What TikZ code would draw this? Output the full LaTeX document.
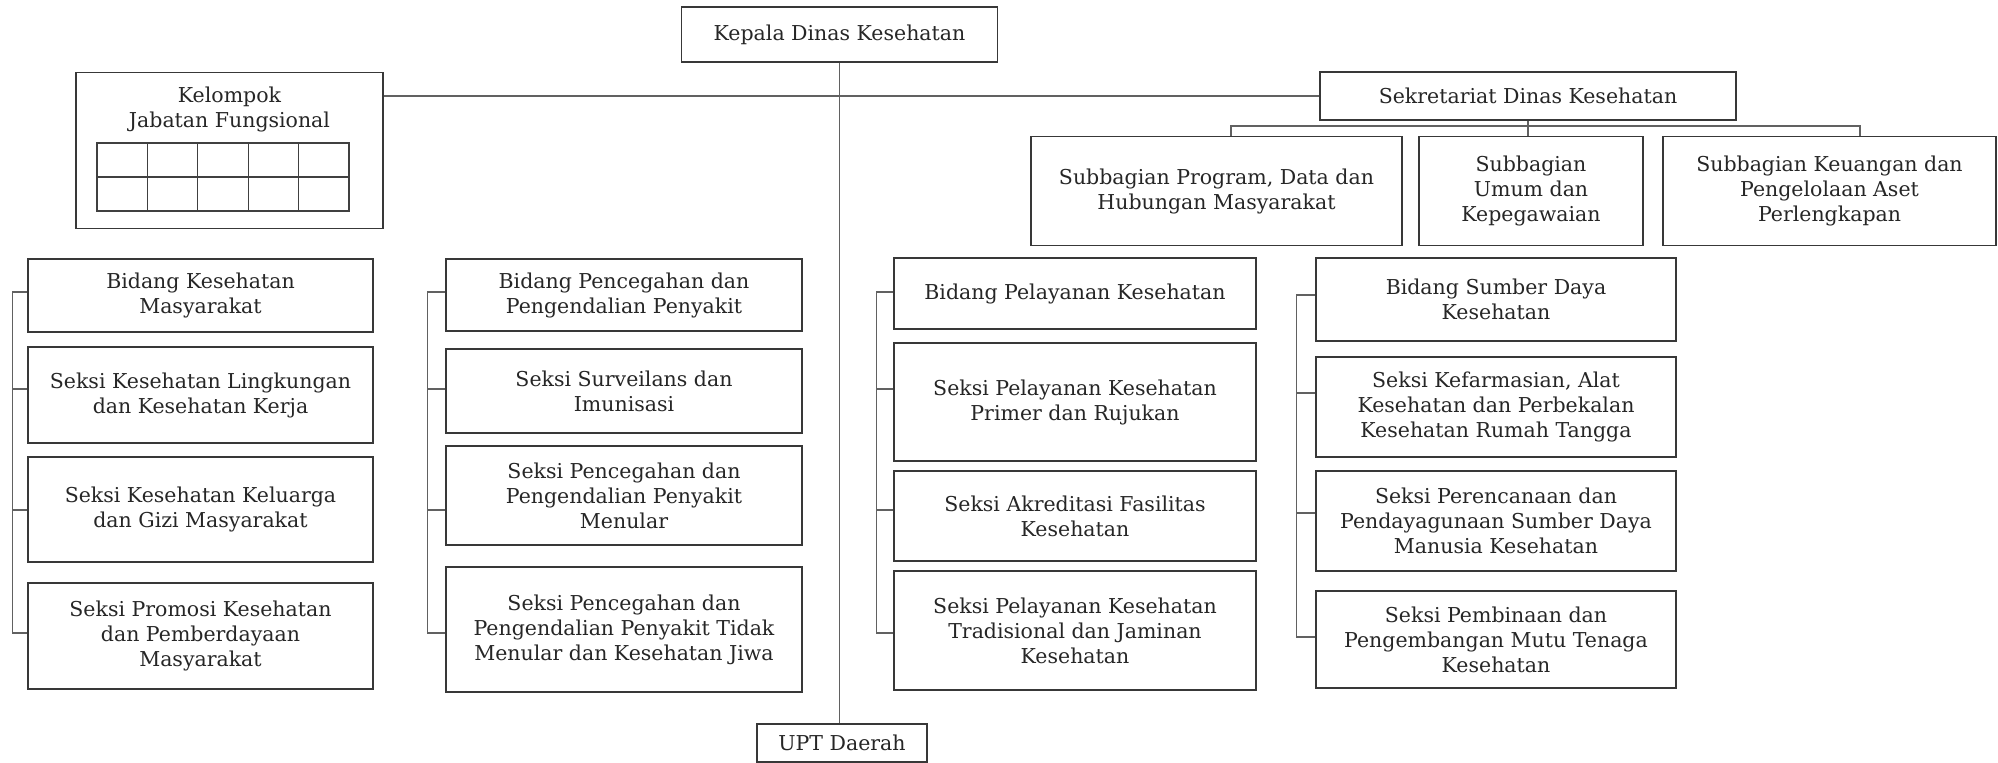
\documentclass[tikz,border=0pt]{standalone}
\usepackage{fontspec}
\setmainfont{DejaVu Serif}
\usetikzlibrary{calc}
\begin{document}
\begin{tikzpicture}[x=1pt,y=-1pt,
  box/.style={draw=black!78, line width=1.5pt, text=black!85, align=center,
    inner sep=0pt, font=\fontsize{20.5}{25}\selectfont},
  label/.style={text=black!85, align=center, inner sep=0pt,
    font=\fontsize{20.5}{25}\selectfont},
  link/.style={draw=black!62, line width=1.1pt},
  gridline/.style={draw=black!75, line width=1.2pt}]
\useasboundingbox[fill=white] (0,0) rectangle (1998,763);

% head of the office and the regional unit
\node[box, minimum width=316, minimum height=55] (kep) at (839.5,34.5) {Kepala Dinas Kesehatan};
\node[box, minimum width=170, minimum height=38] (upt) at (842,743) {UPT Daerah};

% functional group with its table
\node[box, minimum width=307, minimum height=156] (kel) at (229.5,150.5) {};
\node[label] (keltxt) at (229.5,109) {Kelompok\\Jabatan Fungsional};
\draw[gridline] (97,143) rectangle (349,211);
\draw[gridline] (97,177) -- (349,177);
\foreach \gx in {147.4,197.8,248.2,298.6} \draw[gridline] (\gx,143) -- (\gx,211);

% secretariat and its sub-sections
\node[box, minimum width=416, minimum height=48] (sek) at (1528,96) {Sekretariat Dinas Kesehatan};
\node[box, minimum width=371, minimum height=109] (prog) at (1216.5,191) {Subbagian Program, Data dan\\Hubungan Masyarakat};
\node[box, minimum width=224, minimum height=109] (umum) at (1531,191) {Subbagian\\Umum dan\\Kepegawaian};
\node[box, minimum width=333, minimum height=109] (keu) at (1829.5,191) {Subbagian Keuangan dan\\Pengelolaan Aset\\Perlengkapan};

% column 1
\node[box, minimum width=345, minimum height=73]  (b1)   at (200.5,295.5) {Bidang Kesehatan\\Masyarakat};
\node[box, minimum width=345, minimum height=96]  (b1s1) at (200.5,395)   {Seksi Kesehatan Lingkungan\\dan Kesehatan Kerja};
\node[box, minimum width=345, minimum height=105] (b1s2) at (200.5,509.5) {Seksi Kesehatan Keluarga\\dan Gizi Masyarakat};
\node[box, minimum width=345, minimum height=106] (b1s3) at (200.5,636)   {Seksi Promosi Kesehatan\\dan Pemberdayaan\\Masyarakat};

% column 2
\node[box, minimum width=356, minimum height=72]  (b2)   at (624,295)   {Bidang Pencegahan dan\\Pengendalian Penyakit};
\node[box, minimum width=356, minimum height=84]  (b2s1) at (624,391)   {Seksi Surveilans dan\\Imunisasi};
\node[box, minimum width=356, minimum height=99]  (b2s2) at (624,495.5) {Seksi Pencegahan dan\\Pengendalian Penyakit\\Menular};
\node[box, minimum width=356, minimum height=125] (b2s3) at (624,629.5) {Seksi Pencegahan dan\\Pengendalian Penyakit Tidak\\Menular dan Kesehatan Jiwa};

% column 3
\node[box, minimum width=362, minimum height=71]  (b3)   at (1075,293.5) {Bidang Pelayanan Kesehatan};
\node[box, minimum width=362, minimum height=118] (b3s1) at (1075,402)   {Seksi Pelayanan Kesehatan\\Primer dan Rujukan};
\node[box, minimum width=362, minimum height=90]  (b3s2) at (1075,516)   {Seksi Akreditasi Fasilitas\\Kesehatan};
\node[box, minimum width=362, minimum height=119] (b3s3) at (1075,630.5) {Seksi Pelayanan Kesehatan\\Tradisional dan Jaminan\\Kesehatan};

% column 4
\node[box, minimum width=360, minimum height=83]  (b4)   at (1496,299.5) {Bidang Sumber Daya\\Kesehatan};
\node[box, minimum width=360, minimum height=100] (b4s1) at (1496,407)   {Seksi Kefarmasian, Alat\\Kesehatan dan Perbekalan\\Kesehatan Rumah Tangga};
\node[box, minimum width=360, minimum height=100] (b4s2) at (1496,521)   {Seksi Perencanaan dan\\Pendayagunaan Sumber Daya\\Manusia Kesehatan};
\node[box, minimum width=360, minimum height=97]  (b4s3) at (1496,639.5) {Seksi Pembinaan dan\\Pengembangan Mutu Tenaga\\Kesehatan};

% main trunk and staff line
\draw[link] (kep.south) -- (kep.south |- upt.north);
\draw[link] (sek.west) -- (sek.west -| kel.east);

% secretariat branch bar
\coordinate (barL) at (1231,126);
\coordinate (barR) at (1860,126);
\draw[link] (sek.south) -- (sek.south |- umum.north);
\draw[link] (barL |- prog.north) -- (barL) -- (barR) -- (barR |- keu.north);

% bracket rows
\coordinate (r1) at (0,292);
\coordinate (r2) at (0,389);
\coordinate (r3) at (0,510);
\coordinate (r4) at (0,633);
\coordinate (q1) at (0,295);
\coordinate (q2) at (0,393);
\coordinate (q3) at (0,513);
\coordinate (q4) at (0,637);

% column brackets
\draw[link] (b1.west |- r1) -- ++(-15,0) |- (b1s3.west |- r4);
\draw[link] (b1s1.west |- r2) -- ++(-15,0);
\draw[link] (b1s2.west |- r3) -- ++(-15,0);

\draw[link] (b2.west |- r1) -- ++(-18,0) |- (b2s3.west |- r4);
\draw[link] (b2s1.west |- r2) -- ++(-18,0);
\draw[link] (b2s2.west |- r3) -- ++(-18,0);

\draw[link] (b3.west |- r1) -- ++(-17,0) |- (b3s3.west |- r4);
\draw[link] (b3s1.west |- r2) -- ++(-17,0);
\draw[link] (b3s2.west |- r3) -- ++(-17,0);

\draw[link] (b4.west |- q1) -- ++(-19,0) |- (b4s3.west |- q4);
\draw[link] (b4s1.west |- q2) -- ++(-19,0);
\draw[link] (b4s2.west |- q3) -- ++(-19,0);
\end{tikzpicture}
\end{document}
